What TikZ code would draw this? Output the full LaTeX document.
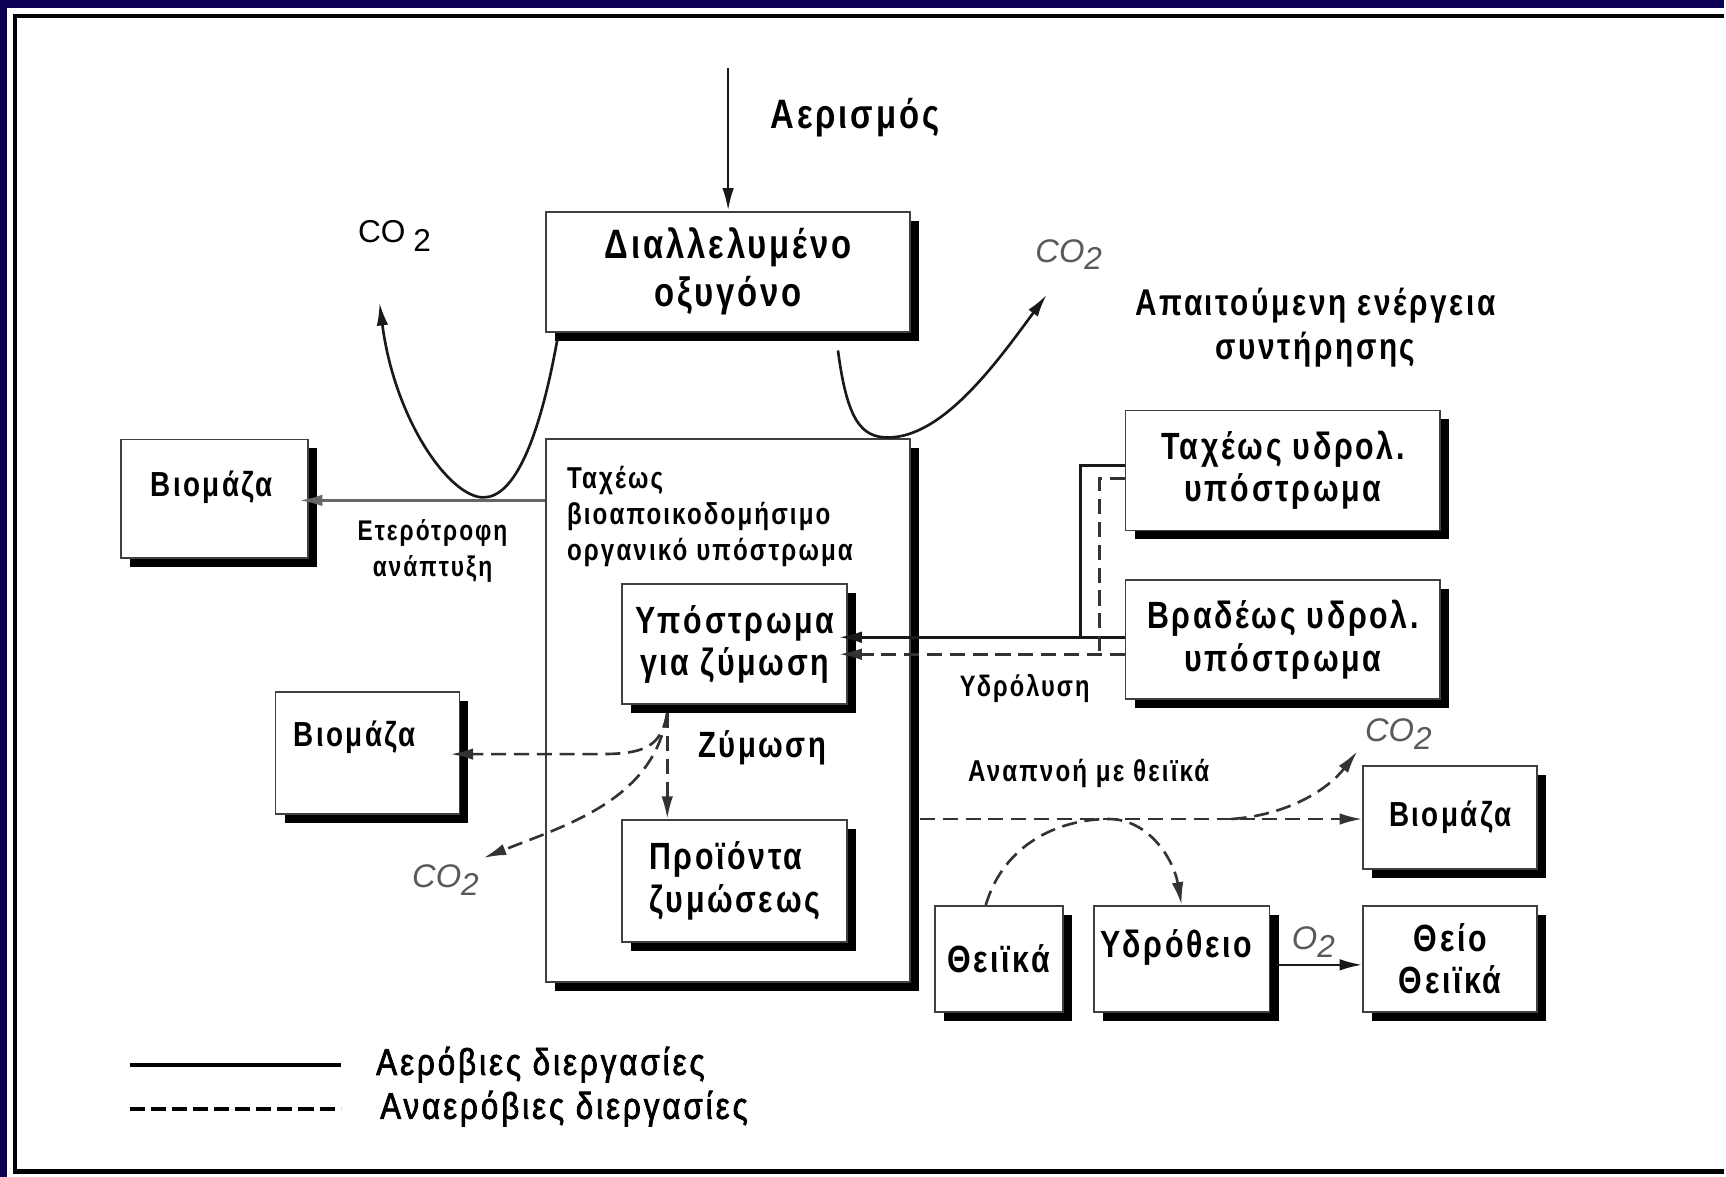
\documentclass[tikz,border=0pt]{standalone}
\usepackage{fontspec}
\setmainfont{Liberation Sans}
\newfontfamily\cond{Liberation Sans}[FakeStretch=0.8, LetterSpace=7]
\newfontfamily\condl{Liberation Sans}[FakeStretch=0.84, LetterSpace=8, FakeBold=2]
\usetikzlibrary{arrows.meta,shadows,calc}
\definecolor{navy}{RGB}{12,0,84}

\begin{document}
\begin{tikzpicture}[x=0.01cm, y=-0.01cm,
    box/.style={rectangle, draw=black!75, line width=0.5pt, fill=white, inner sep=0pt, align=center,
        general shadow={fill=black, shadow xshift=0.09cm, shadow yshift=-0.09cm}},
    flow/.style={line width=0.75pt, draw=black!90},
    anflow/.style={flow, draw=black!80, dash pattern=on 4.3pt off 2.2pt},
    tip/.style={-{Latex[length=6.5pt,width=3.3pt]}},
    lbl/.style={font=\cond\bfseries\fontsize{10.8}{12}\selectfont, align=center, inner sep=0pt},
    biglbl/.style={font=\cond\bfseries\fontsize{11.7}{13.7}\selectfont, align=center, inner sep=0pt},
    biolbl/.style={font=\cond\bfseries\fontsize{9.9}{11}\selectfont, inner sep=0pt},
    small/.style={font=\cond\bfseries\fontsize{8.6}{10.3}\selectfont, align=center, inner sep=0pt},
    leg/.style={font=\condl\fontsize{10.6}{12}\selectfont, inner sep=0pt},
    gas/.style={font=\itshape\fontsize{9.3}{10}\selectfont, text=black!65, inner sep=0pt}
]
    % frame
    \fill[navy] (0,0) rectangle (1726,1178);
    \fill[white] (7,8) rectangle (1726,1178);
    \draw[line width=1.2pt] (1726,16) -- (15,16) -- (15,1173) -- (1726,1173);
    \useasboundingbox (0,0) rectangle (1726,1178);

    % boxes
    \node[box, biglbl, minimum width=3.64cm, minimum height=1.2cm] (oxy) at (729,272) {Διαλλελυμένο\\οξυγόνο};
    \node[box, minimum width=3.64cm, minimum height=5.43cm] (fastbio) at (729,711.5) {};
    \node[small, anchor=north west, align=left] (fastbiotxt) at (567,466) {Ταχέως\\βιοαποικοδομήσιμο\\οργανικό υπόστρωμα};
    \node[box, lbl, minimum width=2.25cm, minimum height=1.2cm] (ferm) at (735.5,645) {Υπόστρωμα\\για ζύμωση};
    \node[box, lbl, align=left, minimum width=2.25cm, minimum height=1.22cm] (prod) at (735.5,882) {Προϊόντα\\ζυμώσεως};

    \node[box, minimum width=1.87cm, minimum height=1.19cm] (bio1) at (214.5,499.5) {};
    \node[biolbl] (bio1txt) at (212,488) {Βιομάζα};
    \node[box, minimum width=1.84cm, minimum height=1.22cm] (bio2) at (368,754) {};
    \node[biolbl] (bio2txt) at (355,738) {Βιομάζα};

    \node[box, lbl, minimum width=3.15cm, minimum height=1.2cm] (fast) at (1284.5,471) {Ταχέως υδρολ.\\υπόστρωμα};
    \node[box, lbl, minimum width=3.15cm, minimum height=1.19cm] (slow) at (1284.5,640.5) {Βραδέως υδρολ.\\υπόστρωμα};
    \node[box, biolbl, minimum width=1.74cm, minimum height=1.03cm] (bio3) at (1452,818.5) {Βιομάζα};

    \node[box, lbl, minimum width=1.28cm, minimum height=1.06cm] (sulf) at (1000,960) {Θειϊκά};
    \node[box, minimum width=1.76cm, minimum height=1.06cm] (h2s) at (1183,960) {};
    \node[lbl] (h2stxt) at (1178,949) {Υδρόθειο};
    \node[box, lbl, minimum width=1.74cm, minimum height=1.06cm] (sulfur) at (1452,960) {Θείο\\Θειϊκά};

    % labels
    \node[biglbl] (aerlbl) at (856,118) {Αερισμός};
    \node[lbl, font=\cond\bfseries\fontsize{10.6}{12.5}\selectfont] (maint) at (1317,328) {Απαιτούμενη ενέργεια\\συντήρησης};
    \node[small, font=\cond\bfseries\fontsize{8.1}{10.2}\selectfont] (hetero) at (433,552) {Ετερότροφη\\ανάπτυξη};
    \node[lbl, font=\cond\bfseries\fontsize{10.4}{12}\selectfont] (zym) at (763,749) {Ζύμωση};
    \node[small, font=\cond\bfseries\fontsize{8.4}{10}\selectfont] (hyd) at (1026,689) {Υδρόλυση};
    \node[small] (resp) at (1090,774) {Αναπνοή με θειϊκά};
    \node[gas, font=\fontsize{9}{10}\selectfont, text=black] (co2a) at (395,236) {CO\hspace{0.25em}\raisebox{-0.55ex}{2}};
    \node[gas] (co2b) at (1070,255) {CO\raisebox{-0.45ex}{\small 2}};
    \node[gas] (co2c) at (446,881) {CO\raisebox{-0.45ex}{\small 2}};
    \node[gas] (co2d) at (1400,735) {CO\raisebox{-0.45ex}{\small 2}};
    \node[gas] (o2) at (1315,943) {O\raisebox{-0.45ex}{\small 2}};

    % aerobic connectors
    \coordinate (aer) at (729,68);
    \coordinate (co2aend) at (380,303);
    \coordinate (co2bend) at (1048,295);
    \draw[flow, tip] (aer) -- (oxy.north);
    \draw[flow, tip] ($(oxy.south west)+(12,7)$) .. controls (540,440) and (515,498) .. (484,498)
        .. controls (450,498) and (395,420) .. (co2aend);
    \draw[flow, tip] ($(oxy.south)+(110,18)$) .. controls (848,420) and (862,438) .. (889,438)
        .. controls (945,438) and (1000,360) .. (co2bend);
    \draw[flow, draw=black!60, tip, shorten >=-0.09cm] (fastbio.west |- 0,501) -- (bio1.east |- 0,501);
    \draw[flow, tip, shorten >=-0.09cm] (slow.west |- 0,638) -- (ferm.east |- 0,638);
    \draw[flow] (fast.west |- 0,466) -- (1082,466) -- (1082,638);
    \draw[flow, tip] ($(h2s.east |- 0,966)+(6,0)$) -- (sulfur.west |- 0,966);

    % anaerobic connectors
    \coordinate (fork) at ($(ferm.south west)+(46,8)$);
    \coordinate (co2cend) at (484,859);
    \coordinate (co2dend) at (1359,752);
    \coordinate (branch) at (1233,820);
    \draw[anflow, tip, shorten >=-0.09cm] (slow.west |- 0,655) -- (ferm.east |- 0,655);
    \draw[anflow] (fast.west |- 0,479) -- (1101,479) -- (1101,655);
    \draw[anflow, tip] (fork) -- (fork |- prod.north);
    \draw[anflow, tip, shorten >=-0.1cm] (fork) .. controls (662,748) and (645,755) .. (600,755) -- (bio2.east |- 0,755);
    \draw[anflow, tip] (fork) .. controls (655,800) and (570,825) .. (co2cend);
    \draw[anflow, tip] ($(fastbio.east |- 0,820)+(9,0)$) -- (bio3.west |- 0,820);
    \draw[anflow, tip] (branch) .. controls (1290,816) and (1330,790) .. (co2dend);
    \draw[anflow, tip] ($(sulf.north)+(-13,0)$) .. controls (1005,845) and (1060,820) .. (1110,820)
        .. controls (1150,820) and (1175,860) .. (h2s.north);

    % legend
    \coordinate (legA) at (130,1066);
    \coordinate (legB) at (341,1066);
    \coordinate (legC) at (130,1110);
    \coordinate (legD) at (341,1110);
    \draw[line width=1.1pt] (legA) -- (legB);
    \draw[line width=1.1pt, dash pattern=on 4.3pt off 1.7pt] (legC) -- (legD);
    \node[leg, anchor=west] (legaer) at (376,1066) {Αερόβιες διεργασίες};
    \node[leg, anchor=west] (leganaer) at (380,1110) {Αναερόβιες διεργασίες};
\end{tikzpicture}
\end{document}
